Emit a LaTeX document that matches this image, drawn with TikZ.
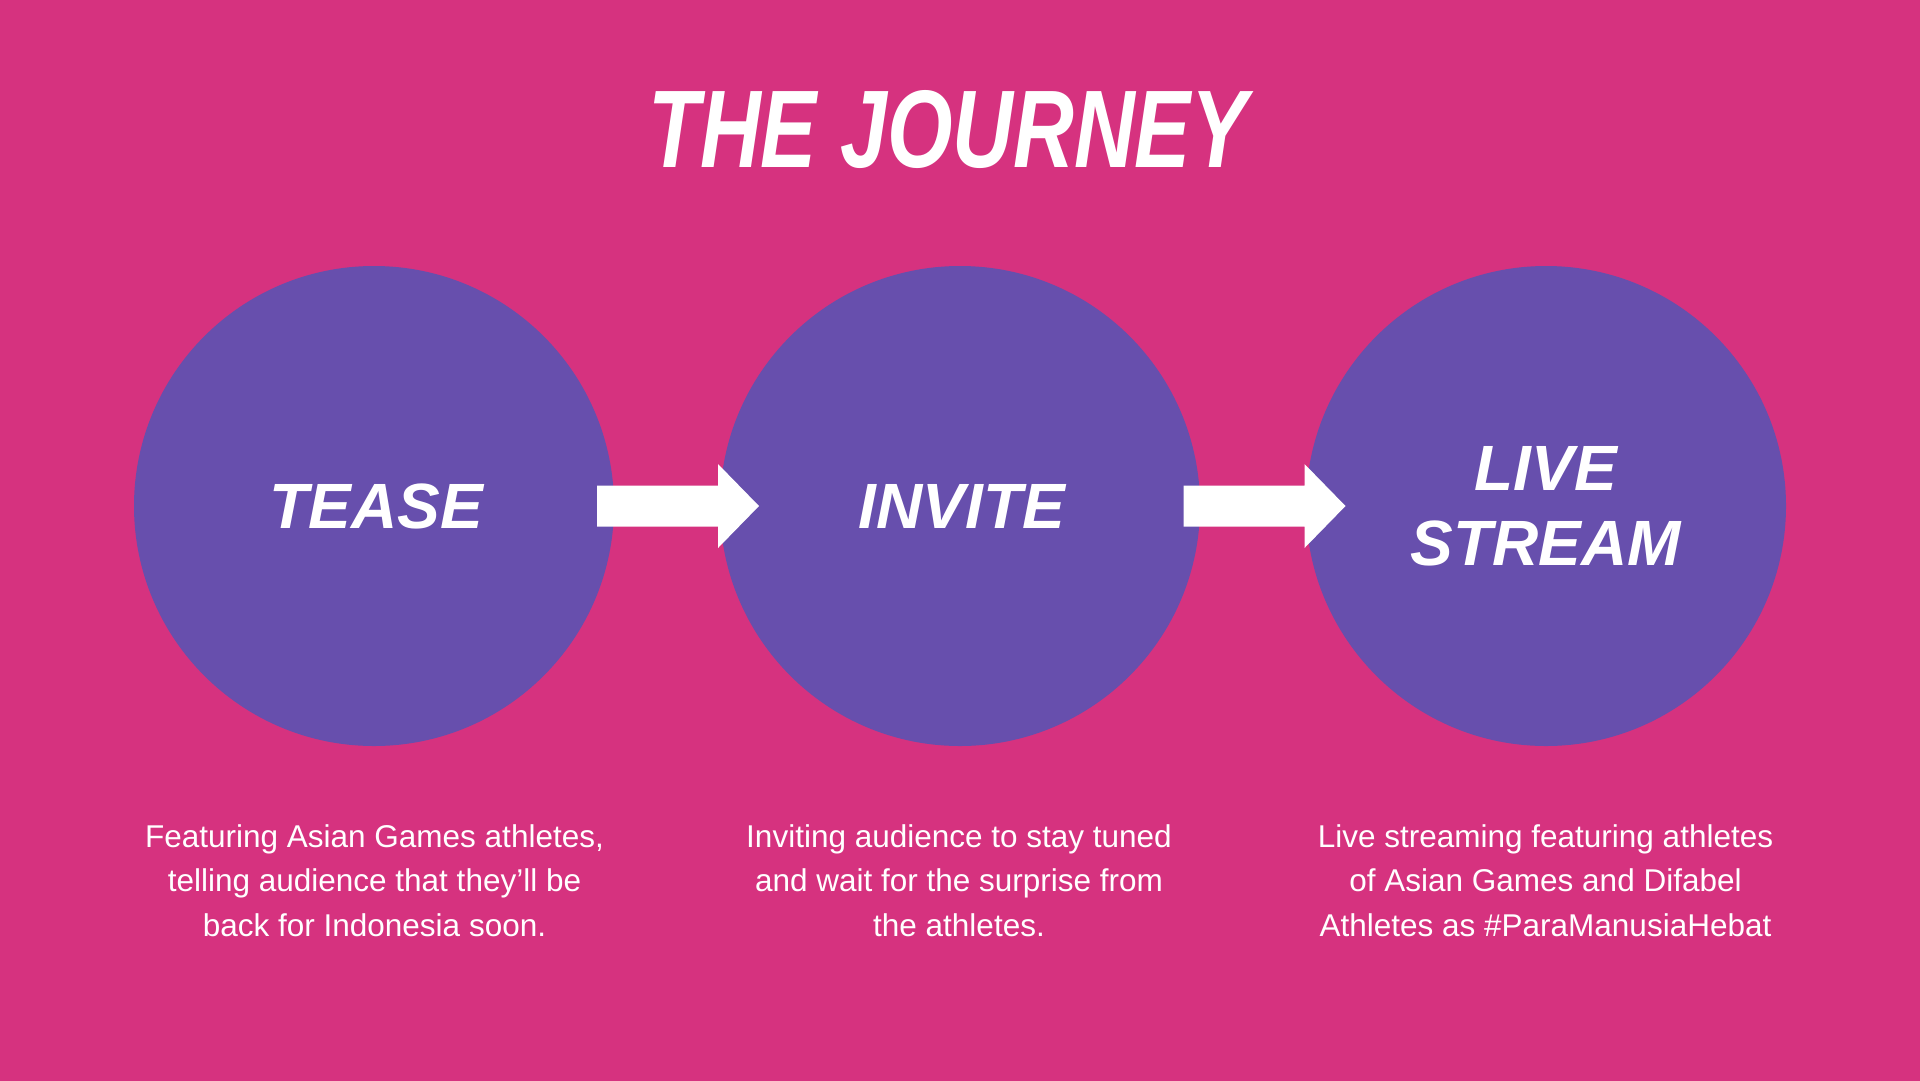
\documentclass[tikz,border=0pt]{standalone}
\usepackage{fontspec}
\setmainfont{Liberation Sans}
\definecolor{bgpink}{HTML}{D6327F}
\definecolor{circpurple}{HTML}{674FAD}
\tikzset{
  stagecircle/.style={circle, fill=circpurple, minimum size=480pt, inner sep=0pt,
    text=white, align=center, font=\fontsize{64}{75}\selectfont\bfseries\itshape},
  bodytext/.style={text=white, inner sep=0pt, anchor=base,
    font=\fontsize{31.5}{44.5}\selectfont},
  titletext/.style={text=white, inner sep=0pt, anchor=base},
  blockarrow/.pic={
    \fill[white] (0,-20.5) -- ++(121,0) -- ++(0,-21.5) -- ++(41,42)
      -- ++(-41,42) -- ++(0,-21.5) -- ++(-121,0) -- cycle;
  }
}
\begin{document}
\begin{tikzpicture}[x=1pt,y=-1pt]
\useasboundingbox (0,0) rectangle (1920,1080);
\fill[bgpink] (-10,-10) rectangle (1930,1090);

\node[titletext] (title) at (948,167)
  {\resizebox{598pt}{77pt}{\bfseries\itshape THE JOURNEY}};

\node[stagecircle] (c1) at (374,506) {\hspace*{4pt}TEASE};
\node[stagecircle] (c2) at (960,506) {\hspace*{4pt}INVITE};
\node[stagecircle] (c3) at (1546,506) {LIVE\\STREAM};

\coordinate (a1) at (597,506);
\coordinate (a2) at (1183.5,506);
\pic at (a1) {blockarrow};
\pic at (a2) {blockarrow};

\node[bodytext] (t1) at (374.5,847) {\begin{tabular}[t]{@{}c@{}}Featuring Asian Games athletes,\\telling audience that they’ll be\\back for Indonesia soon.\end{tabular}};
\node[bodytext] (t2) at (959,847) {\begin{tabular}[t]{@{}c@{}}Inviting audience to stay tuned\\and wait for the surprise from\\the athletes.\end{tabular}};
\node[bodytext] (t3) at (1545.5,847) {\begin{tabular}[t]{@{}c@{}}Live streaming featuring athletes\\of Asian Games and Difabel\\Athletes as \#ParaManusiaHebat\end{tabular}};
\end{tikzpicture}
\end{document}
